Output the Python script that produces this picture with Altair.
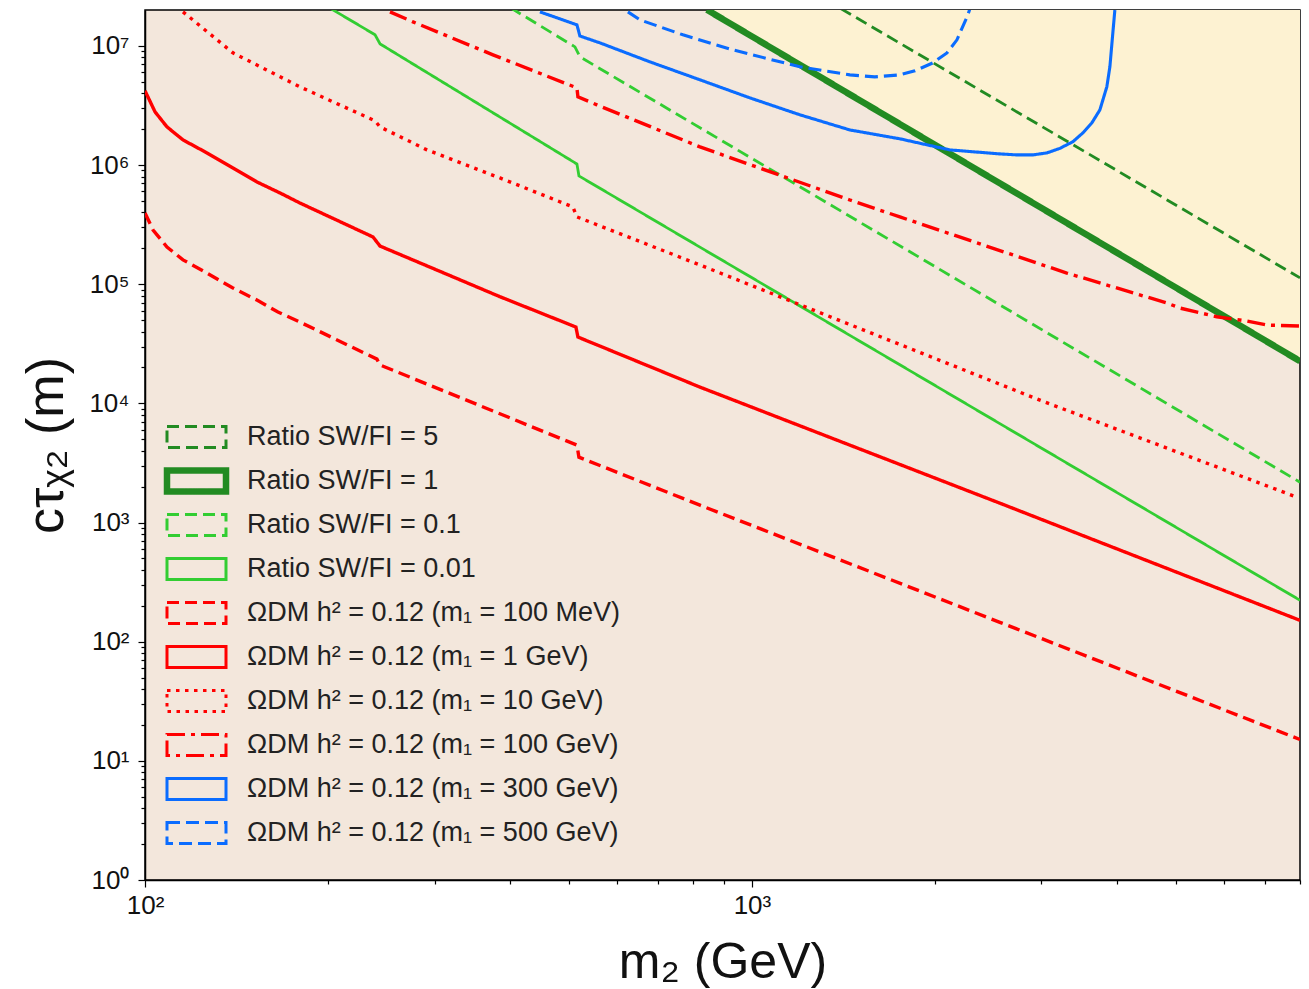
import altair as alt
import pandas as pd

FONT = "Liberation Sans"

SERIES = [
    "Ratio SW/FI = 5",
    "Ratio SW/FI = 1",
    "Ratio SW/FI = 0.1",
    "Ratio SW/FI = 0.01",
    "ΩDM h² = 0.12 (m₁ = 100 MeV)",
    "ΩDM h² = 0.12 (m₁ = 1 GeV)",
    "ΩDM h² = 0.12 (m₁ = 10 GeV)",
    "ΩDM h² = 0.12 (m₁ = 100 GeV)",
    "ΩDM h² = 0.12 (m₁ = 300 GeV)",
    "ΩDM h² = 0.12 (m₁ = 500 GeV)",
]
COLORS = ["#228b22", "#228b22", "#32cd32", "#32cd32",
          "#ff0000", "#ff0000", "#ff0000", "#ff0000", "#0a6cff", "#0a6cff"]
DASHES = [[12, 6], [1, 0], [12, 6], [1, 0], [12, 6], [1, 0], [3.5, 5.5], [18, 6, 4, 6], [1, 0], [13, 6]]
THICK = ["Ratio SW/FI = 1"]
THIN = ["Ratio SW/FI = 5", "Ratio SW/FI = 0.1", "Ratio SW/FI = 0.01"]
BLUE = ["ΩDM h² = 0.12 (m₁ = 300 GeV)", "ΩDM h² = 0.12 (m₁ = 500 GeV)"]

# values (m2 in GeV, c*tau in m)
R5_M = [1400, 8000]
R5_C = [2.06e7, 1.13e5]

R1_M = [843, 8000]
R1_C = [2.01e7, 2.26e4]

R01_M = [400, 511, 520.7, 8000]
R01_C = [2.09e7, 9.81e6, 8.09e6, 2180]

R001_M = [200, 239.3, 243.9, 514.9, 518.8, 8000]
R001_C = [2.13e7, 1.24e7, 1.04e7, 1.02e6, 8.10e5, 222.6]

A100MEV_M = [100, 103.1, 108.7, 115.5, 126.5, 139.6, 152.9, 165.6, 180, 241.1, 243.9,
             514.9, 518.8, 821.1, 2562, 8000]
A100MEV_C = [3.96e5, 2.85e5, 2.05e5, 1.60e5, 1.24e5, 9.29e4, 7.36e4, 5.84e4, 4.81e4, 2.35e4, 2.10e4,
             4460, 3536, 1398, 145.4, 15.1]

A1GEV_M = [100, 103.9, 108.7, 115.5, 126.5, 139.6, 152.9, 166.9, 180, 237.5, 243.9,
           384.5, 512.9, 516.8, 821.1, 2562, 8000]
A1GEV_C = [4.2e6, 2.79e6, 2.09e6, 1.625e6, 1.264e6, 9.46e5, 7.21e5, 5.83e5, 4.80e5, 2.49e5, 2.09e5,
           7.85e4, 4.37e4, 3.60e4, 1.369e4, 1453, 151]

A10GEV_M = [115.5, 139.6, 180, 239.3, 243.9, 291.4, 384.5, 507.1, 514.9, 821.1, 2982, 7905]
A10GEV_C = [1.93e7, 8.74e6, 4.53e6, 2.35e6, 2.09e6, 1.34e6, 7.79e5, 4.45e5, 3.67e5, 1.45e5, 1.064e4, 1632]

A100GEV_M = [253.3, 276.4, 374.4, 514.9, 516.8, 555.3, 821.1, 1450, 1753, 3303, 4829, 5071,
             5834, 6538, 7053, 8000]
A100GEV_C = [1.93e7, 1.59e7, 8.41e6, 4.44e6, 3.73e6, 3.20e6, 1.42e6, 5.09e5, 3.67e5, 1.24e5, 6.95e4, 6.31e4,
             5.33e4, 4.91e4, 4.54e4, 4.45e4]

A300GEV_M = [447.4, 514.9, 520.7, 561.7, 679.2, 821.1, 992.4, 1199.6, 1450, 1753, 2120, 2562,
             2733, 2904, 3062, 3217, 3380, 3510, 3632, 3744, 3844, 3889, 3933, 3963]
A300GEV_C = [1.93e7, 1.50e7, 1.21e7, 1.06e7, 7.34e6, 5.19e6, 3.66e6, 2.64e6, 1.97e6, 1.66e6, 1.339e6, 1.24e6,
             1.216e6, 1.216e6, 1.264e6, 1.38e6, 1.57e6, 1.86e6, 2.26e6, 2.90e6, 4.53e6, 6.67e6, 1.286e7, 2.0e7]

A500GEV_M = [624.7, 653.8, 769.7, 930.5, 1199.6, 1450, 1594, 1753, 1856, 1987, 2096, 2177, 2269, 2290]
A500GEV_C = [1.93e7, 1.654e7, 1.238e7, 9.26e6, 6.67e6, 5.71e6, 5.49e6, 5.71e6, 6.17e6, 7.20e6, 8.73e6,
             1.124e7, 1.82e7, 2.1e7]

SERIES_M = [R5_M, R1_M, R01_M, R001_M, A100MEV_M, A1GEV_M, A10GEV_M, A100GEV_M, A300GEV_M, A500GEV_M]
SERIES_C = [R5_C, R1_C, R01_C, R001_C, A100MEV_C, A1GEV_C, A10GEV_C, A100GEV_C, A300GEV_C, A500GEV_C]

X_MIN, X_MAX = 100, 8000
Y_MIN, Y_MAX = 1, 2.0e7

X_TICKS = [100, 200, 300, 400, 500, 600, 700, 800, 900, 1000,
           2000, 3000, 4000, 5000, 6000, 7000, 8000]
Y_TICKS = [m * 10 ** k for k in range(0, 7) for m in range(1, 10)] + [1e7]

rows = []
for name, ms, cs in zip(SERIES, SERIES_M, SERIES_C):
    for m, c in zip(ms, cs):
        rows.append({"series": name, "m": m, "ct": c})
lines_df = pd.DataFrame(rows)

area_df = pd.DataFrame({"m": R1_M, "ct": R1_C, "top": [Y_MAX] * len(R1_M)})

IS_DEC = "abs(log(datum.value)/LN10 - round(log(datum.value)/LN10)) < 0.001"
SUP = "['⁰','¹','²','³','⁴','⁵','⁶','⁷','⁸']"
LABEL_EXPR = f"{IS_DEC} ? '10' + {SUP}[round(log(datum.value)/LN10)] : ''"
TICK_LEN = {"condition": {"test": IS_DEC, "value": 7}, "value": 4}


def in_list(field, names):
    return "indexof([" + ",".join("'" + n + "'" for n in names) + "], " + field + ") >= 0"


x_scale = alt.Scale(type="log", domain=[X_MIN, X_MAX], nice=False)
y_scale = alt.Scale(type="log", domain=[Y_MIN, Y_MAX], nice=False)

x_axis = alt.Axis(
    values=X_TICKS, labelExpr=LABEL_EXPR, labelOverlap=False, labelFlush=False, grid=False,
    tickSize=TICK_LEN, tickWidth=1.2, tickColor="#000", domainColor="#000", domainWidth=1.5,
    labelFont=FONT, labelFontSize=26, labelColor="#111", labelPadding=5,
    title="m₂ (GeV)", titleFont=FONT, titleFontSize=50, titleFontWeight="normal",
    titleColor="#111", titleY=82, titleBaseline="middle",
)
y_axis = alt.Axis(
    values=Y_TICKS, labelExpr=LABEL_EXPR, labelOverlap=False, labelFlush=False, grid=False,
    tickSize=TICK_LEN, tickWidth=1.2, tickColor="#000", domainColor="#000", domainWidth=1.5,
    labelFont=FONT, labelFontSize=26, labelColor="#111", labelPadding=9,
    title="cτᵪ₂  (m)", titleFont=FONT, titleFontSize=52, titleFontWeight="normal",
    titleColor="#111", titleX=-99, titleY=435, titleBaseline="middle",
)

area = alt.Chart(area_df).mark_area(clip=True, color="#fdf2d2", opacity=1).encode(
    x=alt.X("m:Q", scale=x_scale, axis=x_axis),
    y=alt.Y("ct:Q", scale=y_scale, axis=y_axis),
    y2="top:Q",
)

legend = alt.Legend(
    title=None, orient="none", legendX=8, legendY=412, padding=0,
    symbolType="M-2.5,-0.89L2.5,-0.89L2.5,0.89L-2.5,0.89Z", symbolSize=557,
    symbolFillColor="transparent", symbolOffset=30,
    symbolStrokeWidth={"expr": f"{in_list('datum.value', THICK)} ? 6.5 : 3"},
    labelFont=FONT, labelFontSize=27, labelColor="#222", labelOffset=37,
    labelLimit=700, rowPadding=14, clipHeight=30,
)

stroke_w = alt.StrokeWidthValue(
    3.4,
    condition=[
        {"test": in_list("datum.series", THICK), "value": 6.5},
        {"test": in_list("datum.series", THIN), "value": 2.8},
        {"test": in_list("datum.series", BLUE), "value": 3.1},
    ],
)

lines = alt.Chart(lines_df).mark_line(clip=True).encode(
    x=alt.X("m:Q", scale=x_scale, axis=x_axis),
    y=alt.Y("ct:Q", scale=y_scale, axis=y_axis),
    color=alt.Color("series:N", scale=alt.Scale(domain=SERIES, range=COLORS), legend=legend),
    strokeDash=alt.StrokeDash("series:N", scale=alt.Scale(domain=SERIES, range=DASHES)),
    strokeWidth=stroke_w,
    order=alt.Order("m:Q"),
)

chart = alt.layer(area, lines).properties(
    width=1155, height=870,
    padding={"left": 145, "top": 10, "right": 9, "bottom": 109},
    autosize=alt.AutoSizeParams(type="none"),
).configure_view(
    fill="#f3e7dc", stroke="#000", strokeWidth=1.5,
)

chart.save("out.html", embed_options={"renderer": "svg", "actions": False})
